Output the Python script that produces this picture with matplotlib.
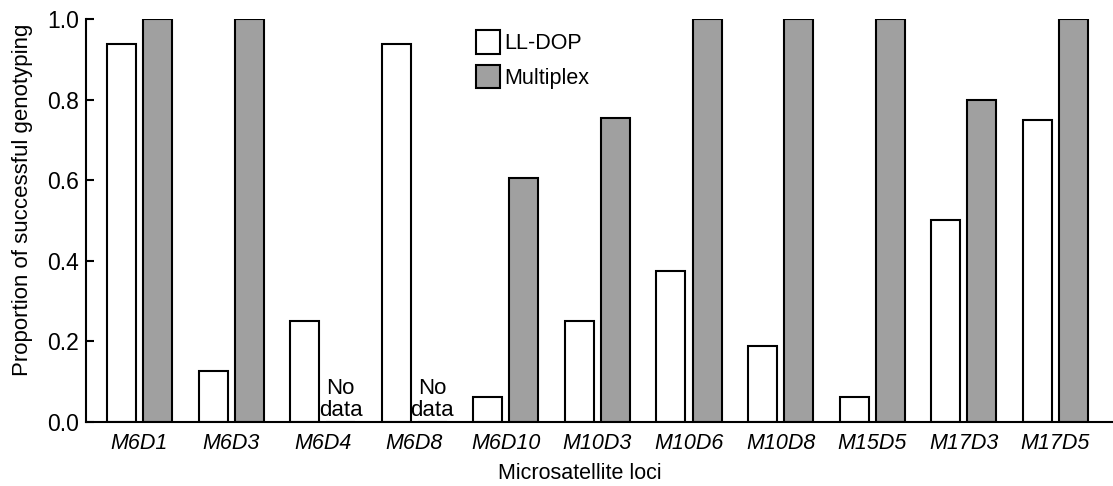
import matplotlib
matplotlib.use("Agg")
import matplotlib.pyplot as plt
import numpy as np

plt.rcParams['font.family'] = ['Liberation Sans', 'DejaVu Sans']

loci = ["M6D1", "M6D3", "M6D4", "M6D8", "M6D10", "M10D3", "M10D6",
        "M10D8", "M15D5", "M17D3", "M17D5"]
ll_dop = [0.9375, 0.125, 0.25, 0.9375, 0.0625, 0.25, 0.375,
          0.1875, 0.0625, 0.5, 0.75]
# None = no data
multiplex = [1.0, 1.0, None, None, 0.605, 0.755, 1.0, 1.0, 1.0, 0.80, 1.0]

fig = plt.figure(figsize=(11.13, 4.86), dpi=100)
ax = fig.add_axes([0.0773, 0.132, 0.9227, 0.829])

x = np.arange(len(loci))
w = 0.317
off = 0.197

ax.bar(x - off, ll_dop, w, color="white", edgecolor="black", linewidth=1.5,
       label="LL-DOP")
mx = [v if v is not None else 0 for v in multiplex]
ax.bar(x + off, mx, w, color="#a0a0a0", edgecolor="black", linewidth=1.5,
       label="Multiplex")

# "No data" markers
for i, v in enumerate(multiplex):
    if v is None:
        ax.text(x[i] + off, 0.003, "No\ndata", ha="center", va="bottom",
                fontsize=16, linespacing=1.05)

ax.set_xlim(-0.584, 10.63)
ax.set_ylim(0, 1.0)
ax.set_xticks(x)
ax.set_xticklabels(loci, fontsize=15.5, style="italic")
ax.tick_params(axis="x", length=0, pad=8)
ax.set_yticks([0, 0.2, 0.4, 0.6, 0.8, 1.0])
ax.set_yticklabels(["0.0", "0.2", "0.4", "0.6", "0.8", "1.0"], fontsize=16.5)
ax.tick_params(axis="y", direction="in", length=6, width=1.5, pad=5)

for s in ["top", "right"]:
    ax.spines[s].set_visible(False)
for s in ["left", "bottom"]:
    ax.spines[s].set_linewidth(1.5)

ax.set_xlabel("Microsatellite loci", fontsize=15.5)
ax.xaxis.set_label_coords(0.481, -0.102)
ax.set_ylabel("Proportion of successful genotyping", fontsize=16)
ax.yaxis.set_label_coords(-0.052, 0.55)

ax.legend(loc="upper left", bbox_to_anchor=(0.4277, 0.938),
          bbox_transform=fig.transFigure, frameon=False, fontsize=15.5,
          handlelength=1.1, handleheight=1.3, handletextpad=0.23,
          labelspacing=0.5, borderaxespad=0, borderpad=0)

fig.savefig("out.png", dpi=100)
